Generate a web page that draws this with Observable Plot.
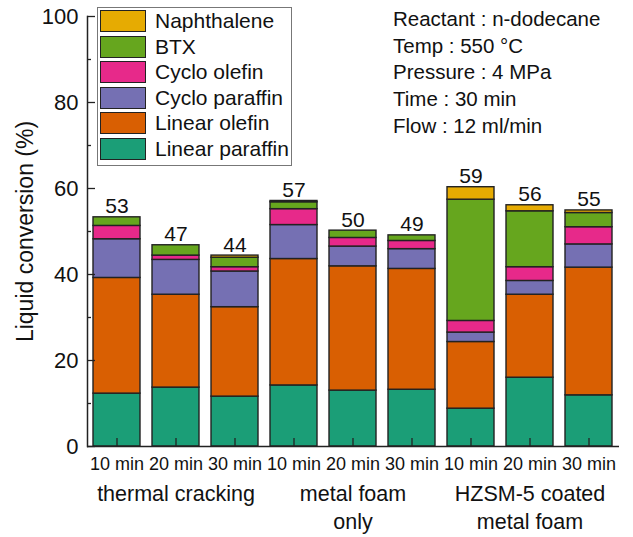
<!DOCTYPE html>
<html><head><meta charset="utf-8">
<script src="https://cdn.jsdelivr.net/npm/d3@7"></script>
<script src="https://cdn.jsdelivr.net/npm/@observablehq/plot@0.6"></script>
<style>
body{margin:0;background:#fff;font-family:"Liberation Sans",Arial,sans-serif;}
#wrap{position:relative;width:633px;height:537px;}
#wrap svg{position:absolute;left:0;top:0;}
.legend{position:absolute;left:97px;top:7px;width:195px;height:159px;border:1px solid #777;box-sizing:border-box;background:#fff;}
.row{position:absolute;left:2px;height:22px;width:190px;}
.sw{position:absolute;left:0;top:0;width:46px;height:22px;border:1.5px solid #222;box-sizing:border-box;}
.lt{position:absolute;left:55px;top:-1px;font-size:21px;line-height:24px;white-space:nowrap;color:#111;}
.ann{position:absolute;left:393px;top:6px;font-size:20.5px;line-height:26.7px;color:#111;white-space:nowrap;}
</style></head><body><div id="wrap"></div>
<script>
// ---- data ----
const groups = ["thermal cracking", "metal foam\nonly", "HZSM-5 coated\nmetal foam"];
const times = ["10 min", "20 min", "30 min"];
const components = ["Linear paraffin", "Linear olefin", "Cyclo paraffin", "Cyclo olefin", "BTX", "Naphthalene"];
const colors = ["#1B9E77", "#D95F02", "#7570B3", "#E7298A", "#66A61E", "#E6AB02"];
const linearParaffin = [12.3, 13.7, 11.6, 14.2, 13.0, 13.2, 8.8, 16.0, 11.9];
const linearOlefin   = [26.9, 21.6, 20.8, 29.4, 28.9, 28.1, 15.5, 19.3, 29.7];
const cycloParaffin  = [9.0, 8.1, 8.3, 7.9, 4.6, 4.6, 2.2, 3.2, 5.4];
const cycloOlefin    = [3.1, 1.0, 1.0, 3.7, 2.0, 1.9, 2.7, 3.2, 4.0];
const btx            = [2.0, 2.4, 2.2, 1.6, 1.7, 1.3, 28.2, 13.0, 3.3];
const naphthalene    = [0, 0, 0.5, 0.3, 0, 0, 2.9, 1.4, 0.6];
const totalLabels    = [53, 47, 44, 57, 50, 49, 59, 56, 55];
const yMajor = [0, 20, 40, 60, 80, 100];
const yMinor = [10, 30, 50, 70, 90];
const conditions = ["Reactant : n-dodecane", "Temp : 550 °C", "Pressure : 4 MPa", "Time : 30 min", "Flow : 12 ml/min"];

// ---- build table ----
const series = [linearParaffin, linearOlefin, cycloParaffin, cycloOlefin, btx, naphthalene];
const keys = [];
groups.forEach((g, gi) => times.forEach(t => keys.push(gi + "|" + t)));
const table = [];
keys.forEach((k, i) => components.forEach((c, ci) => {
  if (series[ci][i] > 0) table.push({key: k, comp: c, value: series[ci][i]});
}));
const tops = keys.map((k, i) => ({key: k, top: d3.sum(series, s => s[i]), label: String(totalLabels[i])}));
const groupRows = groups.map((g, gi) => ({key: keys[gi * 3 + 1], text: g}));

const FONT = "'Liberation Sans', Arial, sans-serif";
const plot = Plot.plot({
  width: 633, height: 537,
  marginLeft: 87, marginRight: 14, marginTop: 16, marginBottom: 91,
  style: {fontFamily: FONT, color: "#111", background: "transparent", overflow: "visible"},
  x: {domain: keys, paddingInner: 0.2, paddingOuter: 0.1, label: null},
  y: {domain: [0, 100], label: null},
  color: {domain: components, range: colors},
  marks: [
    Plot.barY(table, {x: "key", y: "value", fill: "comp", order: components, stroke: "#222", strokeWidth: 1.4}),
    Plot.text(tops, {x: "key", y: "top", text: "label", lineAnchor: "bottom", dy: -4, fontSize: 21, fill: "#111"}),
    Plot.axisX({tickSize: 8, dy: -8, tickFormat: () => "", stroke: "#222", strokeWidth: 1.3}),
    Plot.axisX({tickSize: 0, tickPadding: 11, tickFormat: d => d.split("|")[1], fontSize: 18, label: null}),
    Plot.axisY({ticks: yMajor, tickSize: 8, dx: 8, tickFormat: () => "", stroke: "#222", strokeWidth: 1.3, label: null}),
    Plot.axisY({ticks: yMinor, tickSize: 4, dx: 4, tickFormat: () => "", stroke: "#222", strokeWidth: 1.3, label: null}),
    Plot.axisY({ticks: yMajor, tickSize: 0, tickPadding: 9, fontSize: 22, label: null}),
    Plot.text(groupRows, {x: "key", y: () => 0, text: "text", lineAnchor: "top", dy: 35, fontSize: 21.5, lineHeight: 1.3}),
    Plot.text(["Liquid conversion (%)"], {frameAnchor: "left", textAnchor: "middle", rotate: -90, dx: -62, fontSize: 23}),
    Plot.ruleY([0], {stroke: "#222", strokeWidth: 1.5}),
    Plot.frame({anchor: "left", stroke: "#222", strokeWidth: 1.5})
  ]
});
const wrap = document.getElementById("wrap");
wrap.appendChild(plot);

// legend (top to bottom)
const legend = document.createElement("div");
legend.className = "legend";
const legendOrder = components.slice().reverse();
legendOrder.forEach((c, i) => {
  const row = document.createElement("div");
  row.className = "row";
  row.style.top = (2 + i * 25.6) + "px";
  const sw = document.createElement("div");
  sw.className = "sw";
  sw.style.background = colors[components.indexOf(c)];
  const lt = document.createElement("div");
  lt.className = "lt";
  lt.textContent = c;
  row.appendChild(sw); row.appendChild(lt);
  legend.appendChild(row);
});
wrap.appendChild(legend);

const ann = document.createElement("div");
ann.className = "ann";
ann.innerHTML = conditions.map(s => "<div>" + s + "</div>").join("");
wrap.appendChild(ann);
</script></body></html>
